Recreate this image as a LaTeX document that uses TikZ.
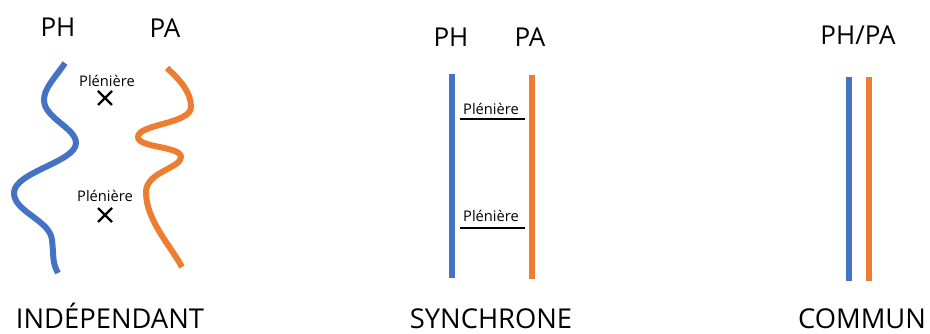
\documentclass[tikz,border=0pt]{standalone}
\usepackage{fontspec}
\setmainfont{Open Sans}
\definecolor{phblue}{RGB}{68,114,196}
\definecolor{paorange}{RGB}{237,125,49}
\tikzset{
  big/.style={font=\fontsize{19.5}{22}\selectfont, anchor=base, inner sep=0pt, text depth=0pt},
  title/.style={big, font=\fontsize{20.5}{22}\selectfont},
  small/.style={font=\fontsize{11}{13}\selectfont, anchor=base, inner sep=0pt},
  phline/.style={color=phblue, line width=4.5pt},
  paline/.style={color=paorange, line width=4.5pt},
}
\begin{document}
\begin{tikzpicture}[x=0.75pt,y=0.75pt,yscale=-1,xscale=1]
\useasboundingbox (0,0) rectangle (930,334);
% Independant: PH curve
\draw [phline] (65,63) .. controls (55,78) and (44,88) .. (44,100) .. controls (44,118) and (76,128) .. (76,143) .. controls (76,162) and (14,172) .. (14,193) .. controls (14,212) and (50,220) .. (52,240) .. controls (54,258) and (52,262) .. (58,273) ;
% Independant: PA curve
\draw [paline] (167,68) .. controls (180,80) and (191,92) .. (191,107) .. controls (191,124) and (138,124) .. (138,137) .. controls (138,148) and (181,146) .. (181,157) .. controls (181,168) and (146,172) .. (146,192) .. controls (146,220) and (170,245) .. (182,267) ;
% crosses
\draw [line width=1.6pt] (98,91) -- (112,105) (98,105) -- (112,91) ;
\draw [line width=1.6pt] (98,208) -- (112,222) (98,222) -- (112,208) ;

\node (indPH) [big] at (58,37) {PH};
\node (indPA) [big] at (165,38) {PA};
\node (indPl1) [small] at (107,87) {Plénière};
\node (indPl2) [small] at (105,202) {Plénière};
\node (indLbl) [title] at (110,328) {INDÉPENDANT};

% Synchrone
\coordinate (syPHtop) at (452,74);
\coordinate (syPHbot) at (452,278);
\coordinate (syPAtop) at (532,75);
\coordinate (syPAbot) at (532,279);
\draw [phline] (syPHtop) -- (syPHbot) ;
\draw [paline] (syPAtop) -- (syPAbot) ;
\node (syPl1) [small] at (491,115) {Plénière};
\node (syPl2) [small] at (491,222) {Plénière};
\draw [line width=1.6pt] (460,119) -- (525,119) ;
\draw [line width=1.6pt] (460,228) -- (525,228) ;

\node (syPH) [big] at (451,47) {PH};
\node (syPA) [big] at (530,47) {PA};
\node (syLbl) [title] at (491,328) {SYNCHRONE};

% Commun
\coordinate (coPHtop) at (849,77);
\coordinate (coPHbot) at (849,281);
\coordinate (coPAtop) at (869,77);
\coordinate (coPAbot) at (869,281);
\draw [phline] (coPHtop) -- (coPHbot) ;
\draw [paline] (coPAtop) -- (coPAbot) ;

\node (coPHPA) [big] at (858,45) {PH/PA};
\node (coLbl) [title] at (862,328) {COMMUN};

\end{tikzpicture}
\end{document}
